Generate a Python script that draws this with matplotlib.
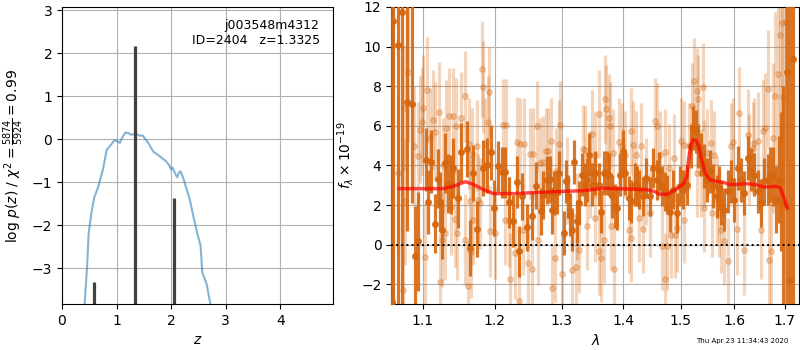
import matplotlib
matplotlib.use('Agg')
import matplotlib.pyplot as plt
from matplotlib.ticker import NullLocator, NullFormatter

# --- left panel: log p(z)
z_grid = [0.40, 0.415, 0.46, 0.49, 0.54, 0.59, 0.66, 0.75, 0.82, 0.90, 0.96, 1.01, 1.06,
          1.09, 1.16, 1.21, 1.27, 1.36, 1.42, 1.48, 1.58, 1.67, 1.79, 1.91, 1.97, 2.00,
          2.03, 2.08, 2.11, 2.14, 2.17, 2.22, 2.34, 2.42, 2.49, 2.54, 2.57, 2.65, 2.72, 2.78]
logpz = [-4.5, -3.84, -2.95, -2.17, -1.71, -1.36, -1.13, -0.71, -0.25, -0.13, -0.03, -0.05,
         -0.09, 0.0, 0.15, 0.14, 0.10, 0.12, 0.08, 0.08, -0.09, -0.29, -0.40, -0.52, -0.62,
         -0.71, -0.67, -0.82, -0.89, -0.79, -0.75, -0.90, -1.40, -1.87, -2.25, -2.48, -3.10,
         -3.37, -3.84, -4.5]
z_peaks = [0.59, 1.3325, 2.06]
logp_peaks = [-3.33, 2.17, -1.37]

# --- right panel: spectrum
wave_dark = [1.0607, 1.0620, 1.0684, 1.0726, 1.0791, 1.0865, 1.0900, 1.0943, 1.1045, 1.1075,
             1.1119, 1.1165, 1.1200, 1.1232, 1.1254, 1.1308, 1.1345, 1.1381, 1.1413, 1.1482,
             1.1527, 1.1597, 1.1644, 1.1694, 1.1751, 1.1836, 1.1884, 1.1946, 1.1989, 1.2051,
             1.2109, 1.2148, 1.2211, 1.2261, 1.2320, 1.2354, 1.2403, 1.2478, 1.2553, 1.2604,
             1.2680, 1.2720, 1.2781, 1.2823, 1.2853, 1.2880, 1.2931, 1.2967, 1.3035, 1.3071,
             1.3103, 1.3139, 1.3166, 1.3193, 1.3245, 1.3272, 1.3325, 1.3368, 1.3405, 1.3442,
             1.3486, 1.3539, 1.3595, 1.3637, 1.3676, 1.3731, 1.3769, 1.3813, 1.3858, 1.3896,
             1.3951, 1.3997, 1.4035, 1.4093, 1.4137, 1.4195, 1.4230, 1.4268, 1.4342, 1.4383,
             1.4457, 1.4515, 1.4574, 1.4614, 1.4672, 1.4714, 1.4760, 1.4803, 1.4867, 1.4928,
             1.4987, 1.5047, 1.5108, 1.5181, 1.5229, 1.5273, 1.5320, 1.5364, 1.5425, 1.5475,
             1.5537, 1.5598, 1.5662, 1.5700, 1.5743, 1.5806, 1.5870, 1.5934, 1.5997, 1.6062,
             1.6126, 1.6190, 1.6256, 1.6321, 1.6385, 1.6452, 1.6517, 1.6583, 1.6650, 1.6696,
             1.6750, 1.6817, 1.6871, 1.6924, 1.6959, 1.7041, 1.7102, 1.7158]
flux_dark = [-2.9, 11.3, 10.1, 11.75, 7.2, 7.1, -0.55, 0.17, 4.3, 2.15,
             4.2, 1.06, 3.33, 2.17, 0.76, 4.12, 3.08, 3.03, 3.87, 2.34,
             4.66, 4.83, -0.17, 3.62, 0.79, 3.87, 4.0, 4.66, 1.85, 3.96,
             3.65, 3.65, 2.14, 1.2, 3.16, -0.34, 2.44, 0.88, 1.46, 2.98,
             1.68, 2.5, 3.28, 3.3, 1.73, 2.6, 2.66, 3.62, 0.59, 3.2,
             2.44, 1.52, 0.76, 4.18, 1.18, 2.1, 3.54, 3.03, 3.28, 4.55,
             3.03, 3.62, 3.03, 1.67, 3.62, 3.62, 3.54, 2.44, 1.94, 1.85,
             3.54, 4.71, 3.62, 2.36, 2.19, 3.03, 2.95, 2.78, 2.44, 3.37,
             2.44, 3.87, 3.28, 3.7, 2.95, 2.69, 2.53, 1.65, 2.78, 1.6,
             2.95, 2.78, 3.03, 4.97, 5.89, 5.72, 4.97, 4.55, 3.96, 3.28,
             3.7, 2.95, 2.44, 2.86, 2.1, 1.77, 2.69, 3.2, 2.27, 3.87,
             3.28, 2.61, 4.38, 3.79, 3.54, 2.69, 2.1, 3.2, 3.28, 3.54,
             3.45, 2.27, 3.28, 3.2, 2.0, 8.72, -1.8, 9.38]
err_dark = [15, 15, 15, 15, 6.5, 5.0, 2.5, 2.5, 1.6, 1.6,
            1.6, 1.5, 1.5, 1.5, 1.5, 1.5, 1.5, 1.5, 1.5, 1.5,
            1.5, 1.4, 1.4, 1.4, 1.4, 1.4, 1.4, 1.4, 1.4, 1.3,
            1.3, 1.3, 1.3, 1.3, 1.3, 1.3, 1.2, 1.2, 1.2, 1.2,
            1.2, 1.2, 1.2, 1.2, 1.2, 1.1, 1.1, 1.1, 1.1, 1.1,
            1.1, 1.1, 1.1, 1.1, 1.1, 1.1, 1.1, 1.1, 1.1, 1.1,
            1.1, 1.1, 1.1, 1.1, 1.1, 1.1, 1.1, 1.1, 1.1, 1.1,
            1.1, 1.1, 1.1, 1.1, 1.1, 1.1, 1.0, 1.0, 1.0, 1.0,
            1.0, 1.0, 1.0, 1.0, 1.0, 1.0, 1.0, 1.0, 1.0, 1.0,
            1.0, 1.0, 1.0, 1.1, 1.1, 1.1, 1.1, 1.1, 1.1, 1.1,
            1.1, 1.1, 1.1, 1.1, 1.1, 1.1, 1.1, 1.1, 1.1, 1.1,
            1.1, 1.1, 1.1, 1.1, 1.1, 1.1, 1.2, 1.2, 1.3, 1.4,
            1.5, 1.7, 2.2, 3.5, 6.0, 15, 15, 15]

wave_light = [1.0684, 1.0748, 1.0761, 1.0770, 1.0804, 1.0891, 1.0943, 1.0966, 1.0987, 1.1009,
              1.1032, 1.1066, 1.1098, 1.1142, 1.1173, 1.1222, 1.1232, 1.1254, 1.1276, 1.1303,
              1.1321, 1.1353, 1.1389, 1.1413, 1.1436, 1.1458, 1.1467, 1.1518, 1.1575, 1.1583,
              1.1621, 1.1631, 1.1644, 1.1662, 1.1672, 1.1694, 1.1742, 1.1761, 1.1789, 1.1813,
              1.1828, 1.1860, 1.1907, 1.1921, 1.1931, 1.2003, 1.2115, 1.2148, 1.2163, 1.2211,
              1.2221, 1.2295, 1.2320, 1.2358, 1.2368, 1.2418, 1.2428, 1.2484, 1.2518, 1.2544,
              1.2568, 1.2619, 1.2643, 1.2668, 1.2709, 1.2760, 1.2796, 1.2837, 1.2848, 1.2905,
              1.2915, 1.2958, 1.2983, 1.2999, 1.3087, 1.3166, 1.3229, 1.3245, 1.3272, 1.3336,
              1.3378, 1.3405, 1.3458, 1.3486, 1.3530, 1.3539, 1.3595, 1.3605, 1.3637, 1.3676,
              1.3703, 1.3720, 1.3759, 1.3786, 1.3803, 1.3825, 1.3842, 1.3924, 1.3980, 1.4025,
              1.4093, 1.4132, 1.4137, 1.4166, 1.4212, 1.4268, 1.4308, 1.4342, 1.4388, 1.4457,
              1.4539, 1.4585, 1.4632, 1.4672, 1.4714, 1.4728, 1.4760, 1.4790, 1.4831, 1.4879,
              1.4892, 1.4928, 1.5000, 1.5059, 1.5068, 1.5150, 1.5210, 1.5242, 1.5291, 1.5302,
              1.5320, 1.5364, 1.5412, 1.5425, 1.5434, 1.5486, 1.5561, 1.5579, 1.5611, 1.5662,
              1.5705, 1.5743, 1.5806, 1.5870, 1.5934, 1.5966, 1.6043, 1.6093, 1.6190, 1.6256,
              1.6288, 1.6354, 1.6385, 1.6452, 1.6517, 1.6551, 1.6603, 1.6650, 1.6682, 1.6716,
              1.6763, 1.6803, 1.6851, 1.6898, 1.6938, 1.6952, 1.7020]
flux_light = [3.6, -2.3, 6.9, 2.2, 8.7, 5.0, 4.5, 5.8, 6.2, 6.9,
              -0.6, 7.8, 5.4, 6.3, 5.7, 6.7, -1.9, 0.25, 4.0, 0.6,
              5.9, 6.5, 1.9, 6.5, 1.3, 6.0, 0.6, 6.4, 0.25, 7.5,
              -2.1, 5.1, 2.2, -0.37, 4.6, 1.26, 5.0, 2.27, 2.1, 8.87,
              7.96, 5.1, 6.2, 7.7, 0.67, 0.59, 6.06, 1.26, 6.06, 1.18,
              -1.73, -0.42, 5.17, -2.86, 5.1, 0.76, 5.1, -0.93, 4.6, -1.23,
              4.6, 5.98, 0.25, 4.1, 4.18, 4.71, 4.71, 5.22, -2.19, -0.67,
              3.7, 5.1, 6.06, -1.5, 3.25, -1.26, -1.1, 1.43, -0.25, 4.83,
              4.8, 0.93, 3.54, 5.6, 1.35, 4.55, -0.34, 6.6, -0.67, 0.25,
              7.36, 6.85, 6.4, 6.0, 0.93, 4.63, -1.23, 5.19, 4.97, 4.55,
              0.76, 0.34, 5.72, 5.05, 4.55, 1.35, 4.97, 0.79, 3.2, 1.6,
              6.23, 5.98, 4.55, -0.08, -1.73, 4.66, -0.08, 3.87, 0.5, 4.38,
              0.5, 0.84, 5.22, 1.26, 5.05, 4.97, 6.99, 8.25, 7.74, 3.62,
              7.36, 3.62, 7.96, 4.12, 1.85, 4.63, 5.13, 1.6, 4.55, 2.27,
              1.6, 0.76, 0.17, -0.84, 4.97, 5.2, 0.79, 6.65, -0.25, 5.55,
              4.29, 4.88, 5.13, 5.22, 0.76, 5.72, 5.89, 7.86, -0.76, -0.34,
              5.39, 7.53, 8.64, 10.6, 11.2, 7.44, 11.23]
err_light = [4.0, 5.0, 3.2, 3.2, 3.5, 3.0, 2.7, 2.7, 2.7, 2.7,
             2.7, 2.7, 2.5, 2.5, 2.5, 2.5, 2.5, 2.4, 2.4, 2.4,
             2.4, 2.4, 2.4, 2.4, 2.4, 2.4, 2.4, 2.3, 2.3, 2.3,
             2.3, 2.3, 2.3, 2.3, 2.3, 2.3, 2.3, 2.3, 2.3, 2.4,
             2.3, 2.3, 2.3, 2.3, 2.3, 2.3, 2.3, 2.3, 2.3, 2.3,
             2.3, 2.3, 2.3, 2.3, 2.3, 2.3, 2.3, 2.3, 2.3, 2.3,
             2.3, 2.3, 2.3, 2.3, 2.3, 2.2, 2.2, 2.2, 2.2, 2.2,
             2.2, 2.2, 2.2, 2.2, 2.2, 2.2, 2.2, 2.2, 2.2, 2.2,
             2.2, 2.2, 2.2, 2.2, 2.2, 2.2, 2.2, 2.2, 2.2, 2.2,
             2.2, 2.2, 2.2, 2.2, 2.2, 2.2, 2.2, 2.2, 2.2, 2.2,
             2.2, 2.2, 2.2, 2.2, 2.2, 2.2, 2.2, 2.2, 2.2, 2.2,
             2.2, 2.2, 2.2, 2.2, 2.3, 2.2, 2.2, 2.2, 2.2, 2.2,
             2.2, 2.2, 2.2, 2.2, 2.2, 2.2, 2.2, 2.2, 2.2, 2.2,
             2.2, 2.2, 2.2, 2.2, 2.2, 2.2, 2.2, 2.2, 2.2, 2.2,
             2.2, 2.2, 2.2, 2.2, 2.2, 2.2, 2.3, 2.3, 2.3, 2.3,
             2.3, 2.3, 2.3, 2.5, 2.5, 2.6, 2.8, 3.0, 3.2, 3.3,
             3.8, 4.2, 4.7, 5.2, 6.0, 5.5, 7.0]

wave_model = [1.0696, 1.128, 1.1417, 1.158, 1.169, 1.1835, 1.198, 1.227, 1.277, 1.3345,
              1.367, 1.411, 1.440, 1.453, 1.463, 1.476, 1.488, 1.497, 1.506, 1.511,
              1.515, 1.519, 1.523, 1.528, 1.533, 1.538, 1.545, 1.554, 1.565, 1.579,
              1.591, 1.6236, 1.643, 1.657, 1.683, 1.691, 1.697, 1.705]
flux_model = [2.83, 2.83, 2.95, 3.18, 3.05, 2.78, 2.58, 2.58, 2.66, 2.73,
              2.85, 2.81, 2.78, 2.69, 2.55, 2.55, 2.75, 2.9, 3.1, 3.45,
              4.46, 5.1, 5.3, 5.25, 4.97, 4.3, 3.6, 3.28, 3.2, 3.15,
              3.03, 3.08, 3.03, 2.91, 2.95, 2.86, 2.44, 1.85]

wave_ticks = [1.1, 1.2, 1.3, 1.4, 1.5, 1.6, 1.7]
spec_color = '#d5670f'

fig = plt.figure(figsize=(8, 3.5), dpi=100)
ax1 = fig.add_axes([0.0775, 0.131, 0.339, 0.849])
ax2 = fig.add_axes([0.489, 0.131, 0.510, 0.849])

ax1.plot(z_grid, logpz, color='#1f77b4', alpha=0.55, lw=1.5)
ax1.vlines(z_peaks, -10, logp_peaks, color='0.25', lw=2.3)
ax1.set_xlim(0, 4.97)
ax1.set_ylim(-3.84, 3.07)
ax1.set_xticks([0, 1, 2, 3, 4])
ax1.set_yticks([-3, -2, -1, 0, 1, 2, 3])
ax1.grid()
ax1.set_xlabel(r'$z$')
ax1.set_ylabel(r'log $p(z)$ / $\chi^2=\frac{5874}{5924}=0.99$')
ax1.text(0.95, 0.96, 'j003548m4312\nID=2404   z=1.3325', ha='right', va='top',
         transform=ax1.transAxes, fontsize=9)

ax2.errorbar(wave_light, flux_light, err_light, marker='o', ms=4, linestyle='None',
             color=spec_color, alpha=0.28, elinewidth=2.3, zorder=2)
ax2.errorbar(wave_dark, flux_dark, err_dark, marker='o', ms=4, linestyle='None',
             color=spec_color, alpha=0.9, elinewidth=2.3, zorder=3)
ax2.plot(wave_model, flux_model, color='r', alpha=0.7, lw=2.5, zorder=4)
ax2.axhline(0, color='k', linestyle=':', lw=1.4, zorder=5)
ax2.set_xscale('log')
ax2.set_xlim(1.0594, 1.7295)
ax2.set_ylim(-3, 12)
ax2.set_xticks(wave_ticks)
ax2.set_xticklabels(['%.1f' % w for w in wave_ticks])
ax2.xaxis.set_minor_locator(NullLocator())
ax2.xaxis.set_minor_formatter(NullFormatter())
ax2.grid()
ax2.set_xlabel(r'$\lambda$')
ax2.set_ylabel(r'$f_\lambda\times10^{-19}$')

fig.text(0.985, 0.027, 'Thu Apr 23 11:34:43 2020', ha='right', va='center', fontsize=5)

fig.savefig('out.png', dpi=100)
plt.close('all')
